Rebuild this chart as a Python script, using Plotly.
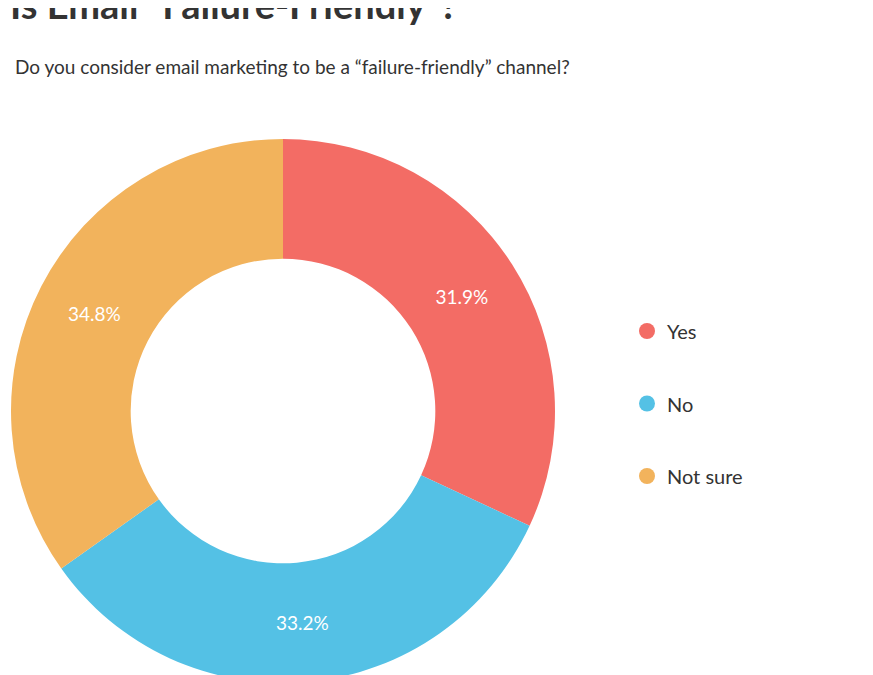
import plotly.graph_objects as go

labels = ['Yes', 'No', 'Not sure']
values = [31.9, 33.2, 34.8]
colors = ['#F36C65', '#54C1E5', '#F2B35C']

W, H = 873, 675

fig = go.Figure(go.Pie(
    labels=labels, values=values, sort=False, direction='clockwise', rotation=0,
    hole=0.56, marker=dict(colors=colors),
    texttemplate='%{value:.1f}%', textposition='inside', insidetextorientation='horizontal',
    textfont=dict(color='white', size=19, family='Lato'),
    domain=dict(x=[3 / W, 547 / W], y=[0, 1 - 131 / H]),
    showlegend=False, hoverinfo='label+percent'))

ann = [
    dict(text='<b>Is Email “Failure-Friendly”?</b>', x=0, y=1 + 4 / H, xanchor='left', yanchor='middle',
         font=dict(size=38, color='#333333', family='Lato'), showarrow=False),
    dict(text='Do you consider email marketing to be a “failure-friendly” channel?', x=5 / W, y=1 - 58 / H,
         xanchor='left', yanchor='middle', font=dict(size=19, color='#333333', family='Lato'), showarrow=False),
]
shapes = []
for i, (lab, col) in enumerate(zip(labels, colors)):
    yp = 323 + i * 72.5
    shapes.append(dict(type='circle', xref='paper', yref='paper', fillcolor=col, line_width=0,
                       x0=631 / W, x1=647 / W, y0=1 - (yp + 8) / H, y1=1 - (yp - 8) / H))
    ann.append(dict(text=lab, x=657 / W, y=1 - yp / H, xanchor='left', yanchor='middle',
                    font=dict(size=20, color='#333333', family='Lato'), showarrow=False))

fig.update_layout(width=W, height=H, margin=dict(l=0, r=0, t=0, b=0),
                  paper_bgcolor='white', annotations=ann, shapes=shapes)
fig.write_html('out.html')
